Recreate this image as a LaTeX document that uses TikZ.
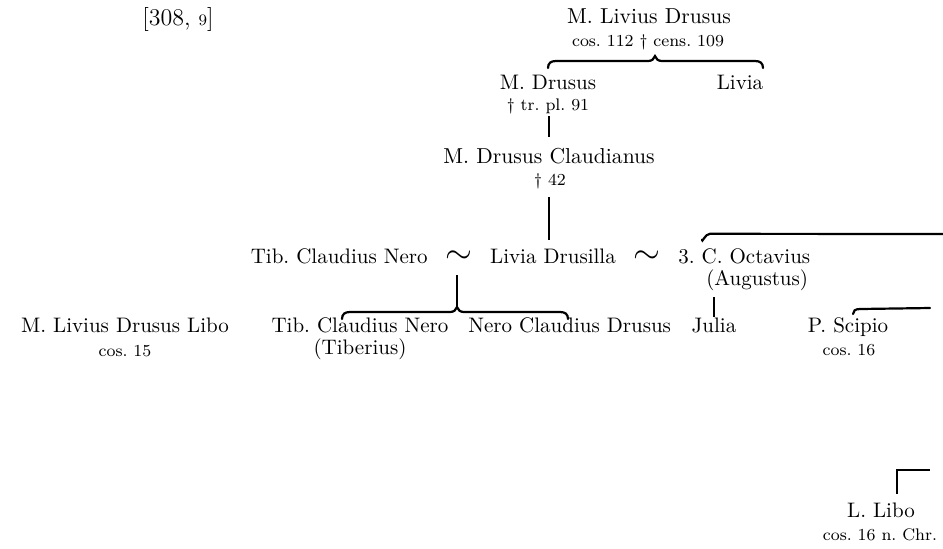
\documentclass[tikz,border=0pt]{standalone}
\usepackage{amsmath,amssymb}
\usepackage{tikz}
\usetikzlibrary{positioning,calc}
\frenchspacing

% brace joining the children of one line: left end, cusp, right end, height
\newcommand{\kinbrace}[4]{%
  \draw[brace] (#1,#4+7) .. controls (#1,#4+2) and (#1+3,#4) .. (#1+8,#4)
    -- (#2-7,#4) .. controls (#2-3,#4) and (#2-1,#4-2) .. (#2,#4-5)
    .. controls (#2+1,#4-2) and (#2+3,#4) .. (#2+7,#4)
    -- (#3-8,#4) .. controls (#3-3,#4) and (#3,#4+2) .. (#3,#4+7);}

\begin{document}
\begin{tikzpicture}[
    x=0.5pt, y=-0.5pt,
    node distance=8.5pt,
    person/.style={inner sep=0pt, anchor=base, font=\fontsize{10.5}{13}\selectfont},
    note/.style={inner sep=0pt, anchor=base, font=\fontsize{8.4}{10}\selectfont},
    marr/.style={inner sep=0pt, font=\LARGE},
    line/.style={line width=1pt},
    brace/.style={line width=1.1pt, line cap=round}
]
    \useasboundingbox (0,0) rectangle (943,548);

    \node[person, font=\fontsize{12}{14}\selectfont] (page) at (178,25) {[308, {\footnotesize 9}]};

    % first generation
    \node[person, font=\fontsize{10.8}{13}\selectfont] (ldrusus) at (649,23) {M. Livius Drusus};
    \node[note] (ldrususnote) at (648,46) {cos. 112 \dag\ cens. 109};

    \node[person] (mdrusus) at (548,89) {M. Drusus};
    \node[note] (mdrususnote) at (548,110) {\dag\ tr. pl. 91};
    \node[person] (livia) at (740,89) {Livia};

    \node[person, font=\fontsize{10.8}{13}\selectfont] (claud) at (549,163) {M. Drusus Claudianus};
    \node[note] (claudnote) at (550,185) {\dag\ 42};

    % marriages
    \node[person] (drusilla) at (553,263) {Livia Drusilla};
    \node[marr, base left=of drusilla] (sim1) {$\sim$};
    \node[person, base left=of sim1] (tcnero) {Tib. Claudius Nero};
    \node[marr, base right=of drusilla] (sim2) {$\sim$};
    \node[person, base right=of sim2] (oct) {3. C. Octavius};
    \node[person, anchor=base west] (octnote) at ([xshift=14pt,yshift=-11pt]oct.base west) {(Augustus)};

    % children
    \node[person] (libo) at (125,332) {M. Livius Drusus Libo};
    \node[note] (libonote) at (125,356) {cos. 15};
    \node[person] (tiberius) at (360,332) {Tib. Claudius Nero};
    \node[person] (tibnote) at (360,354) {(Tiberius)};
    \node[person, anchor=base west] (ncdrusus) at (468,332) {Nero Claudius Drusus};
    \node[person] (julia) at (714,332) {Julia};
    \node[person] (scipio) at (848,332) {P. Scipio};
    \node[note] (scipionote) at (849,355) {cos. 16};

    \node[person] (llibo) at (881,517) {L. Libo};
    \node[note] (llibonote) at (880,540) {cos. 16 n. Chr.};

    % descent lines
    \kinbrace{548}{655}{763}{61}
    \draw[line] ([yshift=-1pt]mdrususnote.south -| claud.north) -- ([yshift=5pt]claud.north);
    \draw[line] ([yshift=-4pt]claudnote.south -| claud.north) -- ([yshift=4pt]drusilla.north -| claud.north);

    \coordinate (cusp1) at (457,306);
    \draw[line] ([yshift=-6pt]sim1.south -| cusp1) -- (cusp1);
    \kinbrace{342}{457}{568}{312}

    \draw[brace] ([xshift=12pt,yshift=4pt]oct.north west) .. controls +(0,4) and +(-5,0) .. ([xshift=16pt,yshift=7pt]oct.north west) -- (943,234);
    \coordinate (augdown) at (714,297);
    \draw[line] (augdown) -- (augdown |- julia.north);

    \draw[brace] (853,314) .. controls (853,311) and (855,309) .. (860,309) -- (930,308);

    \coordinate (libocorner) at (897,470);
    \draw[line] ([yshift=4pt]llibo.north -| libocorner) -- (libocorner) -- ++(33,0);
\end{tikzpicture}
\end{document}
